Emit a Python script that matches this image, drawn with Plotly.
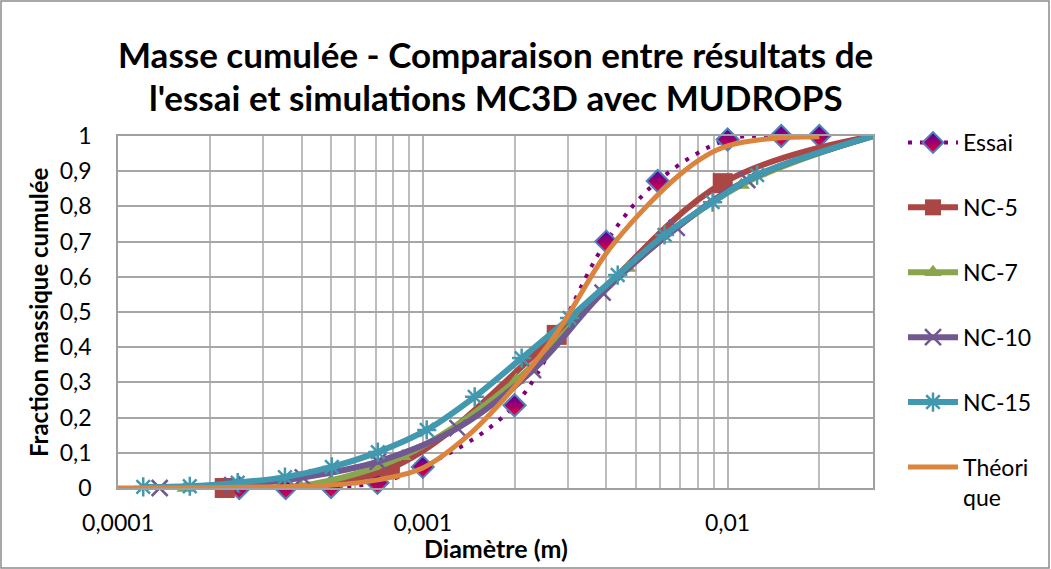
import plotly.graph_objects as go

# ---- data ----
essai_x = [0.00025, 0.000355, 0.0005, 0.00071, 0.001, 0.002, 0.004, 0.0059, 0.01, 0.015, 0.02]
essai_y = [0.0, 0.0, 0.003, 0.015, 0.06, 0.235, 0.70, 0.872, 0.99, 1.0, 1.0]

nc5_x = [0.000224, 0.00078, 0.00275, 0.00964, 0.03]
nc5_y = [0.0, 0.055, 0.435, 0.866, 1.0]

nc7_x = [0.000166, 0.000395, 0.00086, 0.00203, 0.0047, 0.0111, 0.03]
nc7_y = [0.0, 0.005, 0.09, 0.307, 0.625, 0.861, 1.0]

nc10_x = [0.000137, 0.000237, 0.000404, 0.000712, 0.0013, 0.0023, 0.00389, 0.00681, 0.0116, 0.03]
nc10_y = [0.0, 0.008, 0.03, 0.075, 0.17, 0.335, 0.555, 0.739, 0.875, 1.0]

nc15_x = [0.000121, 0.000172, 0.000247, 0.000353, 0.000503, 0.000712, 0.00103, 0.00148,
          0.00211, 0.00303, 0.00436, 0.00621, 0.00893, 0.0125, 0.03]
nc15_y = [0.003, 0.005, 0.015, 0.031, 0.06, 0.102, 0.165, 0.259, 0.369, 0.483, 0.605,
          0.719, 0.812, 0.889, 1.0]

theo_x = [0.0001, 0.000249, 0.000496, 0.000712, 0.001, 0.00139, 0.002, 0.00275, 0.004,
          0.00542, 0.00696, 0.00853, 0.01, 0.014, 0.02]
theo_y = [0.0, 0.002, 0.008, 0.023, 0.057, 0.145, 0.287, 0.44, 0.667, 0.80, 0.89, 0.945,
          0.972, 0.993, 0.998]

names = ["Essai", "NC-5", "NC-7", "NC-10", "NC-15", "Théori<br>que"]

x_major = [0.0001, 0.001, 0.01]
x_major_text = ["0,0001", "0,001", "0,01"]
y_ticks = [0, 0.1, 0.2, 0.3, 0.4, 0.5, 0.6, 0.7, 0.8, 0.9, 1.0]
y_tick_text = ["0", "0,1", "0,2", "0,3", "0,4", "0,5", "0,6", "0,7", "0,8", "0,9", "1"]

title_l1 = "Masse cumulée - Comparaison entre résultats de"
title_l2 = "l'essai et simulations MC3D avec MUDROPS"
x_title = "Diamètre (m)"
y_title = "Fraction massique cumulée"

# ---- figure ----
FONT = "Lato"
fig = go.Figure()

fig.add_trace(go.Scatter(
    x=essai_x, y=essai_y, name=names[0], legendgroup="g0", mode="lines+markers",
    line=dict(color="#7F007F", width=4, dash="4px,8px", shape="spline", smoothing=1.0),
    marker=dict(symbol="diamond", size=17, color="#4A00A0",
                gradient=dict(type="vertical", color="#F0003A"),
                line=dict(color="#4F81BD", width=2)),
    cliponaxis=False))

fig.add_trace(go.Scatter(
    x=nc5_x, y=nc5_y, name=names[1], legendgroup="g1", mode="lines+markers",
    line=dict(color="#AA4643", width=6, shape="spline", smoothing=1.0),
    marker=dict(symbol="square", size=20, color="#AA4643"),
    cliponaxis=False))

fig.add_trace(go.Scatter(
    x=nc7_x, y=nc7_y, name=names[2], legendgroup="g2", mode="lines+markers",
    line=dict(color="#89A54E", width=6, shape="spline", smoothing=1.0),
    marker=dict(symbol="triangle-up", size=15, color="#89A54E"),
    cliponaxis=False))

fig.add_trace(go.Scatter(
    x=nc10_x, y=nc10_y, name=names[3], legendgroup="g3", mode="lines+markers",
    line=dict(color="#71588F", width=6, shape="spline", smoothing=1.0),
    marker=dict(symbol="x-thin-open", size=16, color="#71588F",
                line=dict(color="#71588F", width=2.5)),
    cliponaxis=False))

fig.add_trace(go.Scatter(
    x=nc15_x, y=nc15_y, name=names[4], legendgroup="g4", mode="lines+markers",
    line=dict(color="#4198AF", width=6, shape="spline", smoothing=1.0),
    marker=dict(symbol="asterisk-open", size=16, color="#4198AF",
                line=dict(color="#4198AF", width=2.5)),
    cliponaxis=False))

fig.add_trace(go.Scatter(
    x=theo_x, y=theo_y, name=names[5], legendgroup="g5", mode="lines",
    line=dict(color="#DB843D", width=5, shape="spline", smoothing=1.0),
    cliponaxis=False))

# minor grid values (2..9 per decade)
minor_vals = []
for dec in [1e-4, 1e-3, 1e-2]:
    for m in range(2, 10):
        v = dec * m
        if v <= 0.03 + 1e-12:
            minor_vals.append(v)

L, R, T, B = 118, 178, 136, 81
W, H = 1051, 569
pw, ph = W - L - R, H - T - B

fig.update_layout(
    width=W, height=H,
    margin=dict(l=L, r=R, t=T, b=B, autoexpand=False),
    paper_bgcolor="white", plot_bgcolor="white",
    font=dict(family=FONT, color="black", size=23),
    separators=", ",
    showlegend=True,
    legend=dict(x=(903 - L) / pw, xanchor="left", y=(488 - 121) / ph, yanchor="top",
                font=dict(family=FONT, size=23, color="black"),
                tracegroupgap=32, itemwidth=50, valign="top", maxheight=470,
                bgcolor="rgba(0,0,0,0)"),
    xaxis=dict(type="log", range=[-4, -1.5229],
               tickvals=x_major, ticktext=x_major_text,
               showgrid=True, gridcolor="#B5B5B5", gridwidth=1.5,
               minor=dict(tickvals=minor_vals, showgrid=True, gridcolor="#BDBDBD", gridwidth=1.5),
               showline=True, linecolor="#A0A0A0", linewidth=1.5, mirror=True,
               ticks="", ticklabelstandoff=14,
               tickfont=dict(family=FONT, size=23),
               zeroline=False),
    yaxis=dict(range=[0, 1], tickvals=y_ticks, ticktext=y_tick_text,
               showgrid=True, gridcolor="#A6A6A6", gridwidth=1.5,
               showline=True, linecolor="#A0A0A0", linewidth=1.5, mirror=True,
               ticks="", ticklabelstandoff=20,
               tickfont=dict(family=FONT, size=23),
               zeroline=False),
)

# titles
fig.add_annotation(text="<b>" + title_l1 + "</b>", xref="paper", yref="paper",
                   x=0.5, y=(488 - 54) / ph, xanchor="center", yanchor="middle",
                   showarrow=False, font=dict(family=FONT, size=35, color="black"))
fig.add_annotation(text="<b>" + title_l2 + "</b>", xref="paper", yref="paper",
                   x=0.5, y=(488 - 97) / ph, xanchor="center", yanchor="middle",
                   showarrow=False, font=dict(family=FONT, size=35, color="black"))
fig.add_annotation(text="<b>" + x_title + "</b>", xref="paper", yref="paper",
                   x=0.5, y=(488 - 548) / ph, xanchor="center", yanchor="middle",
                   showarrow=False, font=dict(family=FONT, size=25, color="black"))
fig.add_annotation(text="<b>" + y_title + "</b>", xref="paper", yref="paper",
                   x=(38 - L) / pw, y=0.5, xanchor="center", yanchor="middle",
                   textangle=-90, showarrow=False, font=dict(family=FONT, size=24, color="black"))

# outer chart frame
fig.add_shape(type="rect", xref="paper", yref="paper",
              x0=(1 - L) / pw, x1=(W - 2 - L) / pw, y0=(488 - (H - 1)) / ph, y1=(488 - 1) / ph,
              line=dict(color="#8C8C8C", width=1.5), fillcolor="rgba(0,0,0,0)", layer="below")

fig.write_html("out.html", config={"displayModeBar": False},
               post_script="document.body.style.margin='0';")
